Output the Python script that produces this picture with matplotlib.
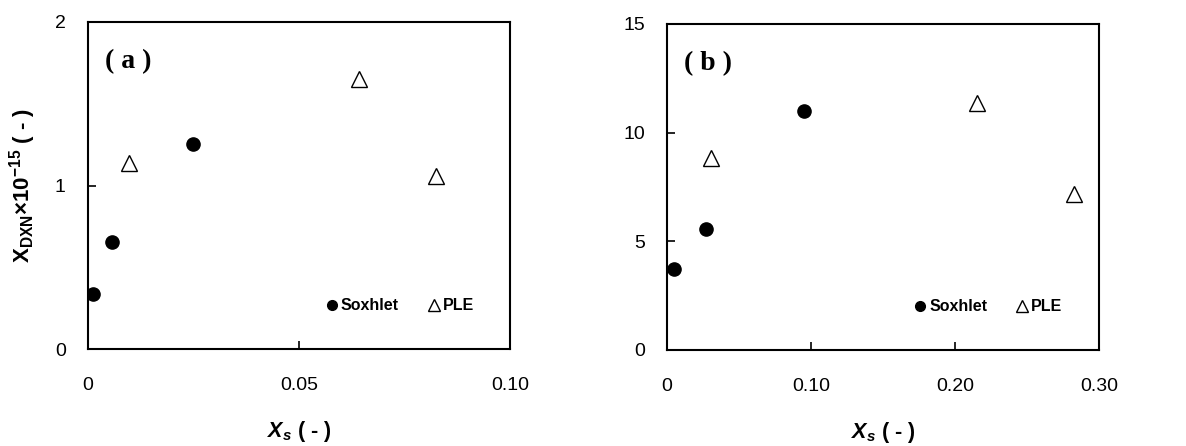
import matplotlib
matplotlib.use("Agg")
import matplotlib.pyplot as plt
from matplotlib.lines import Line2D

plt.rcParams['font.family'] = 'Liberation Sans'
plt.rcParams['mathtext.fontset'] = 'custom'
plt.rcParams['mathtext.rm'] = 'Liberation Sans'
plt.rcParams['mathtext.bf'] = 'Liberation Sans:bold'
plt.rcParams['mathtext.it'] = 'Liberation Sans:bold:italic'

# panel (a)
a_sox_x = [0.0013, 0.0058, 0.0248]
a_sox_y = [0.336, 0.656, 1.252]
a_ple_x = [0.0096, 0.0643, 0.0825]
a_ple_y = [1.14, 1.65, 1.06]
# panel (b)
b_sox_x = [0.0051, 0.0273, 0.095]
b_sox_y = [3.71, 5.58, 10.98]
b_ple_x = [0.0306, 0.2155, 0.2825]
b_ple_y = [8.85, 11.35, 7.2]

fig = plt.figure(figsize=(11.86, 4.46), dpi=100)
ax1 = fig.add_axes([88/1186, 1-349/446, 422/1186, 327/446])
ax2 = fig.add_axes([667/1186, 1-350/446, 432/1186, 326/446])

def style(ax, xlim, ylim, xticks, xlabels, yticks, label):
    ax.set_xlim(xlim)
    ax.set_ylim(ylim)
    ax.set_xticks(xticks)
    ax.set_xticklabels(xlabels)
    ax.set_yticks(yticks)
    ax.tick_params(direction='in', length=6, width=1.2, labelsize=14, pad=0)
    ax.tick_params(axis='x', pad=20)
    ax.tick_params(axis='y', pad=16)
    for s in ax.spines.values():
        s.set_linewidth(1.5)
    ax.text(0.04, 0.878, label, transform=ax.transAxes, fontsize=20,
            fontweight='bold', family='Liberation Serif', va='center')
    ax.set_xlabel(r'$X_s$ ( - )', fontsize=15.5, fontweight='bold', labelpad=18)
    handles = [Line2D([], [], ls='none', marker='o', color='black', markersize=7),
               Line2D([], [], ls='none', marker='^', mfc='white', mec='black',
                      markersize=8, mew=1)]
    ax.legend(handles, ['Soxhlet', 'PLE'], ncol=2, frameon=False,
              loc='center right', bbox_to_anchor=(0.93, 0.132),
              handlelength=0.6, handletextpad=0.25, columnspacing=1.9,
              borderaxespad=0, prop={'size': 11.5, 'weight': 'bold'})

for ax, sx, sy, px, py in [(ax1, a_sox_x, a_sox_y, a_ple_x, a_ple_y),
                           (ax2, b_sox_x, b_sox_y, b_ple_x, b_ple_y)]:
    ax.plot(sx, sy, 'o', color='black', markersize=9.5, ls='none')
    ax.plot(px, py, '^', mfc='white', mec='black', markersize=11, mew=1, ls='none')

style(ax1, (0, 0.10), (0, 2), [0, 0.05, 0.10], ['0', '0.05', '0.10'],
      [0, 1, 2], '( a )')
style(ax2, (0, 0.30), (0, 15), [0, 0.10, 0.20, 0.30],
      ['0', '0.10', '0.20', '0.30'], [0, 5, 10, 15], '( b )')

ax1.set_ylabel(r'$\mathbf{X}_{\mathbf{DXN}}$×10$^{\mathbf{-15}}$ ( - )',
               fontsize=16, fontweight='bold', labelpad=12)

fig.savefig('out.png', dpi=100)
